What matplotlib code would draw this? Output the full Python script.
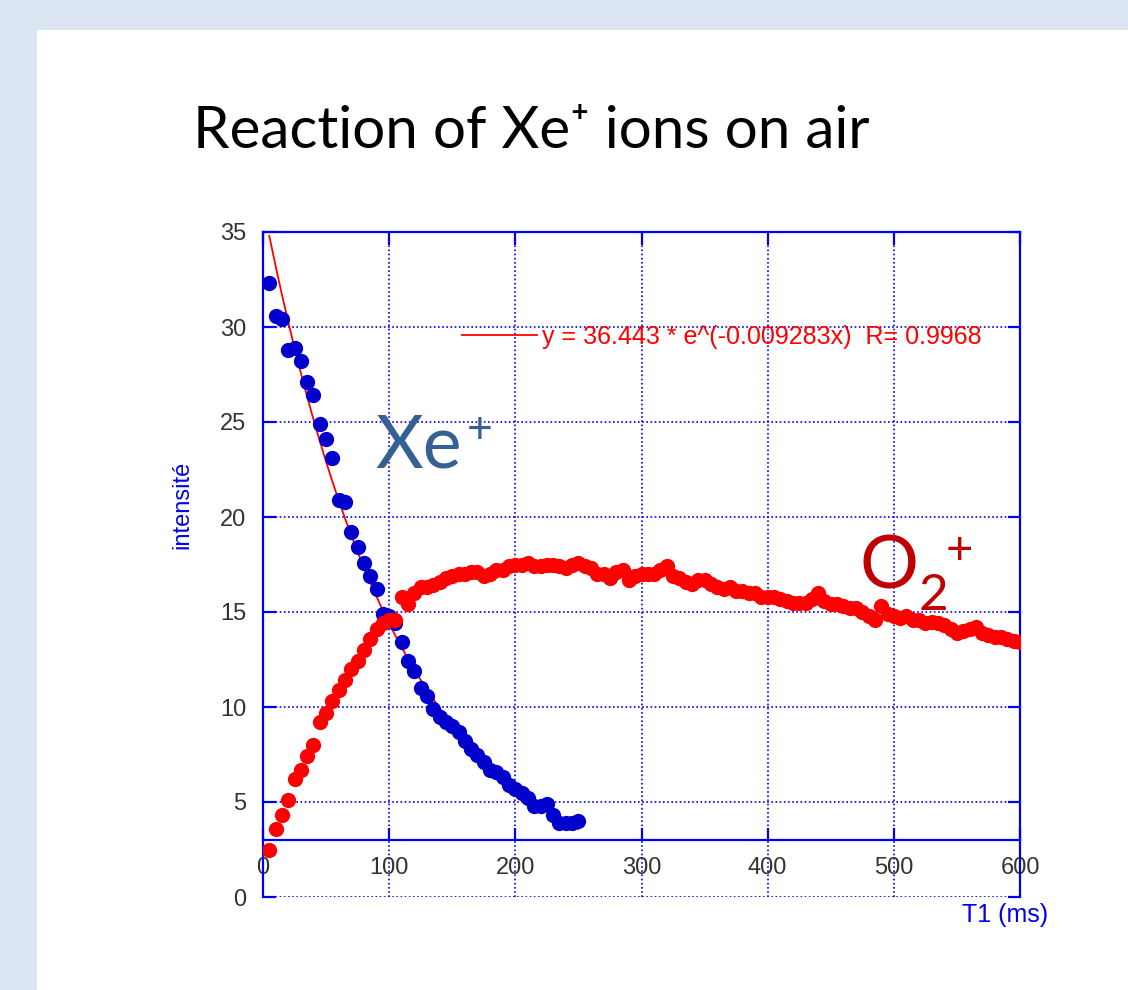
"""
Reaction of Xe+ ions on air: Xe+ decay and O2+ growth vs. trapping time.
"""

import numpy as np
import matplotlib.pyplot as plt
from matplotlib.patches import Rectangle

# ---- data --------------------------------------------------------------
xe_time = np.arange(5, 255, 5)
xe_int = [32.3, 30.6, 30.4, 28.8, 28.9, 28.2, 27.1, 26.4, 24.9, 24.1,
          23.1, 20.9, 20.8, 19.2, 18.4, 17.6, 16.9, 16.2, 14.9, 14.8,
          14.4, 13.4, 12.4, 11.9, 11.0, 10.6, 9.9, 9.5, 9.2, 9.0,
          8.7, 8.2, 7.8, 7.5, 7.1, 6.7, 6.6, 6.3, 5.9, 5.7,
          5.5, 5.2, 4.8, 4.8, 4.9, 4.3, 3.9, 3.9, 3.9, 4.0]

o2_time = np.arange(5, 605, 5)
o2_int = [2.5, 3.6, 4.3, 5.1, 6.2, 6.7, 7.4, 8.0, 9.2, 9.7,
          10.3, 10.9, 11.4, 12.0, 12.4, 13.0, 13.6, 14.1, 14.4, 14.6,
          14.6, 15.8, 15.4, 16.0, 16.3, 16.3, 16.4, 16.6, 16.8, 16.9,
          17.0, 17.0, 17.1, 17.1, 16.9, 17.0, 17.2, 17.2, 17.4, 17.5,
          17.5, 17.6, 17.4, 17.4, 17.5, 17.5, 17.4, 17.3, 17.5, 17.6,
          17.4, 17.3, 17.0, 17.0, 16.8, 17.1, 17.2, 16.7, 16.9, 17.0,
          17.0, 17.0, 17.2, 17.4, 16.9, 16.8, 16.6, 16.5, 16.7, 16.7,
          16.5, 16.3, 16.2, 16.3, 16.1, 16.1, 16.0, 16.0, 15.8, 15.8,
          15.8, 15.7, 15.6, 15.5, 15.5, 15.5, 15.7, 16.0, 15.6, 15.4,
          15.4, 15.3, 15.2, 15.2, 15.0, 14.8, 14.6, 15.3, 14.9, 14.8,
          14.7, 14.8, 14.6, 14.6, 14.4, 14.5, 14.4, 14.3, 14.1, 13.9,
          14.0, 14.1, 14.2, 13.9, 13.8, 13.7, 13.7, 13.6, 13.5, 13.4]

# exponential fit printed on the chart
fit_a = 36.443
fit_k = 0.009283
fit_r = 0.9968
fit_range = (5, 250)

x_ticks = [0, 100, 200, 300, 400, 500, 600]
y_ticks = [0, 5, 10, 15, 20, 25, 30, 35]

AXIS_BLUE = "#0000ee"
TICK_FONT = ["Liberation Sans", "DejaVu Sans"]
SLIDE_FONT = ["Lato", "DejaVu Sans"]

W, H = 1128, 990
fig = plt.figure(figsize=(W / 100, H / 100), dpi=100)
fig.patch.set_facecolor("#dce6f2")
fig.patches.append(Rectangle((37 / W, 0), 1, 1 - 30 / H, transform=fig.transFigure,
                             facecolor="white", edgecolor="none", zorder=-1))

fig.text(193 / W, 1 - 148 / H, "Reaction of Xe\u207a ions on air", family=SLIDE_FONT,
         fontsize=42, color="black", ha="left", va="baseline")

ax = fig.add_axes([263 / W, 1 - 897 / H, (1020 - 263) / W, (897 - 232) / H])
ax.set_facecolor("white")

fx = np.linspace(fit_range[0], fit_range[1], 200)
fit_line, = ax.plot(fx, fit_a * np.exp(-fit_k * fx), color="red", lw=1.3, zorder=3)
ax.plot(xe_time, xe_int, "o", color="#0000cc", ms=11, mew=0, zorder=4)
ax.plot(o2_time, o2_int, "o", color="#ff0000", ms=11, mew=0, zorder=5)

ax.set_xlim(0, 600)
ax.set_ylim(0, 35)
ax.set_xticks(x_ticks)
ax.set_yticks(y_ticks)

ax.grid(True, color=AXIS_BLUE, linestyle=(0, (1, 1.5)), lw=1.2)
ax.set_axisbelow(True)

for side in ("left", "right", "top", "bottom"):
    ax.spines[side].set_color(AXIS_BLUE)
    ax.spines[side].set_linewidth(1.6)
ax.spines["bottom"].set_position(("data", 3))

ax.tick_params(direction="in", length=9, width=1.6, color=AXIS_BLUE,
               top=True, right=True, pad=12, labelsize=17, labelcolor="#333333")
for lab in ax.get_xticklabels() + ax.get_yticklabels():
    lab.set_family(TICK_FONT)

ax.text(1.037, -0.027, "T1 (ms)", transform=ax.transAxes, ha="right", va="center",
        fontsize=18, color=AXIS_BLUE, family=TICK_FONT)
ax.text(-0.106, 0.589, "intensité", transform=ax.transAxes, ha="center", va="center",
        rotation=90, fontsize=17, color=AXIS_BLUE, family=TICK_FONT)

leg = ax.legend([fit_line],
                [f"y = {fit_a} * e^(-{fit_k}x)  R= {fit_r}"],
                loc="center left", bbox_to_anchor=(0.263, 0.842), frameon=False,
                handlelength=3.0, handletextpad=0.2, borderpad=0, borderaxespad=0,
                prop={"family": TICK_FONT, "size": 18})
for t in leg.get_texts():
    t.set_color("red")

# species labels
ax.text(89, 22.6, "Xe", color="#376092", fontsize=53, family=SLIDE_FONT, va="baseline")
ax.text(172, 23.9, "+", color="#376092", fontsize=32, family=SLIDE_FONT,
        ha="center", va="baseline")
ax.text(473, 16.26, "O", color="#c00000", fontsize=53, family=SLIDE_FONT, va="baseline")
ax.text(520, 15.1, "2", color="#c00000", fontsize=37, family=SLIDE_FONT, va="baseline")
ax.text(552, 17.5, "+", color="#c00000", fontsize=34, family=SLIDE_FONT,
        ha="center", va="baseline")

fig.savefig("out.png", dpi=100)
plt.close(fig)
